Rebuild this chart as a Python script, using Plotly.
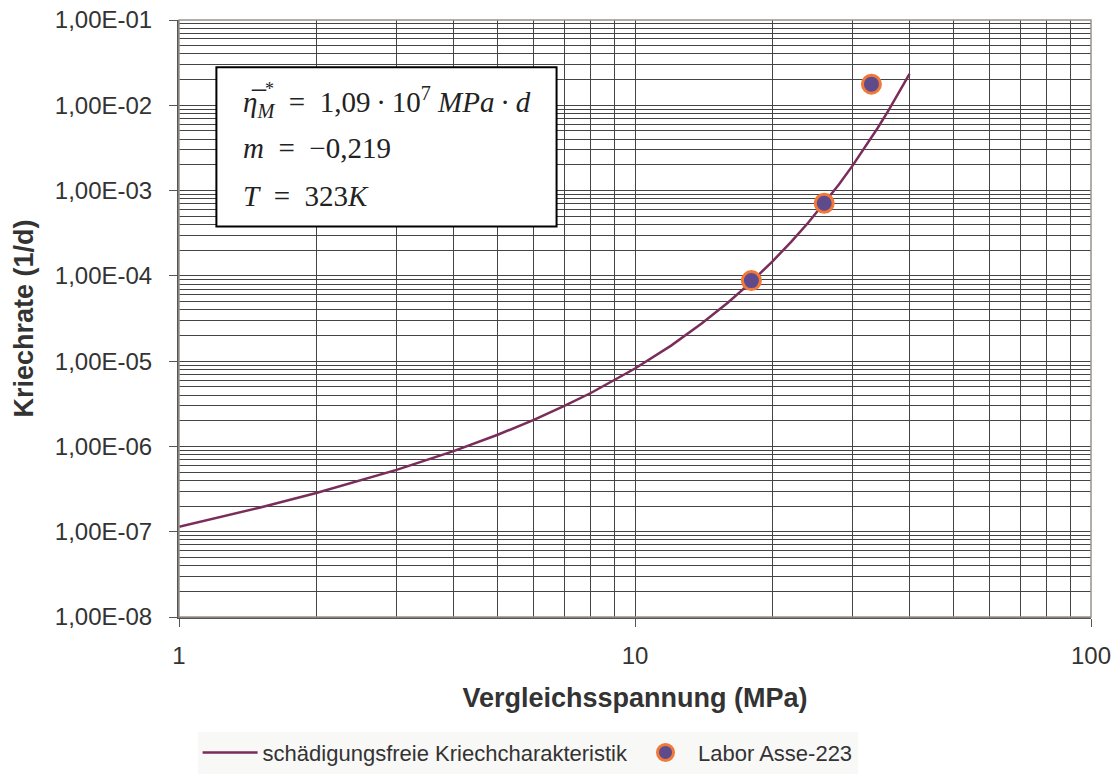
import plotly.graph_objects as go

# Creep characteristic without damage (stress in MPa, creep rate in 1/d)
stress_curve = [1, 1.5, 2, 3, 4, 5, 6, 7, 8, 9, 10, 12, 14, 16, 18, 20,
                22, 24, 26, 28, 30, 32, 34, 36, 38, 40]
rate_curve = [1.14e-7, 1.91e-7, 2.84e-7, 5.31e-7, 8.81e-7, 1.37e-6, 2.05e-6,
              2.98e-6, 4.23e-6, 5.93e-6, 8.20e-6, 1.52e-5, 2.76e-5, 4.88e-5,
              8.51e-5, 1.47e-4, 2.50e-4, 4.22e-4, 7.09e-4, 1.18e-3, 1.96e-3,
              3.25e-3, 5.34e-3, 8.77e-3, 1.43e-2, 2.34e-2]

# Laboratory tests Asse-223
stress_lab = [18, 26, 33]
rate_lab = [8.8e-5, 7.1e-4, 1.77e-2]

x_tickvals = [1, 10, 100]
x_ticktext = ["1", "10", "100"]
y_tickvals = [1e-8, 1e-7, 1e-6, 1e-5, 1e-4, 1e-3, 1e-2, 1e-1]
y_ticktext = ["1,00E-08", "1,00E-07", "1,00E-06", "1,00E-05",
              "1,00E-04", "1,00E-03", "1,00E-02", "1,00E-01"]

name_curve = "schädigungsfreie Kriechcharakteristik"
name_lab = "Labor Asse-223"

SANS = "Liberation Sans, Arial, sans-serif"
SERIF = "Liberation Serif, Times New Roman, serif"
GRID = "#444444"
AXIS = "#555555"
SP = "\u2002"   # en space around the equals signs
TH = "\u2009"   # thin space around the multiplication dots

# minor grid positions: 2..9 within each decade
x_minor = [k * 10 ** e for e in range(0, 2) for k in range(2, 10)]
y_minor = [k * 10.0 ** e for e in range(-8, -1) for k in range(2, 10)]

fig = go.Figure()
fig.add_trace(go.Scatter(
    x=stress_curve, y=rate_curve, mode="lines", name=name_curve,
    line=dict(color="#7a2d5a", width=2.5),
))
fig.add_trace(go.Scatter(
    x=stress_lab, y=rate_lab, mode="markers", name=name_lab,
    marker=dict(size=18, color="#5f4b8b", line=dict(color="#f07838", width=3)),
))

fig.update_xaxes(
    type="log", range=[0, 2],
    tickmode="array", tickvals=x_tickvals, ticktext=x_ticktext,
    ticks="outside", ticklen=8, tickcolor=AXIS, tickwidth=1,
    ticklabelstandoff=8,
    tickfont=dict(family=SANS, size=24, color="#333333"),
    showline=True, linecolor=AXIS, linewidth=2,
    showgrid=True, gridcolor=GRID, gridwidth=1,
    minor=dict(tickmode="array", tickvals=x_minor, showgrid=True,
               gridcolor=GRID, gridwidth=1, ticks=""),
    zeroline=False,
    title=dict(text="<b>Vergleichsspannung (MPa)</b>", standoff=20,
               font=dict(family=SANS, size=27, color="#333333")),
)
fig.update_yaxes(
    type="log", range=[-8, -1],
    tickmode="array", tickvals=y_tickvals, ticktext=y_ticktext,
    ticks="outside", ticklen=8, tickcolor=AXIS, tickwidth=1,
    ticklabelstandoff=12,
    tickfont=dict(family=SANS, size=24, color="#333333"),
    showline=True, linecolor=AXIS, linewidth=2,
    showgrid=True, gridcolor=GRID, gridwidth=1,
    minor=dict(tickmode="array", tickvals=y_minor, showgrid=True,
               gridcolor=GRID, gridwidth=1, ticks=""),
    zeroline=False,
    title=dict(text="<b>Kriechrate (1/d)</b>", standoff=13,
               font=dict(family=SANS, size=27, color="#333333")),
)

# plot frame (top and right edges) and parameter box
fig.add_shape(type="rect", xref="paper", yref="paper", x0=0, x1=1, y0=0, y1=1,
              line=dict(color="#9b918b", width=1.5), layer="above")
fig.add_shape(type="rect", xref="paper", yref="paper",
              x0=0.041, x1=0.414, y0=0.654, y1=0.921,
              line=dict(color="black", width=2), fillcolor="white", layer="above")

txt_font = dict(family=SERIF, size=29, color="#222222")
fig.add_annotation(xref="paper", yref="paper", x=0.068, y=0.862,
                   xanchor="left", yanchor="middle", showarrow=False, font=txt_font,
                   text=(f"<i>η̅</i><sub><i>M</i></sub>{SP}={SP}1,09{TH}·{TH}10<sup>7</sup>"
                         f" <i>MPa</i>{TH}·{TH}<i>d</i>"))
fig.add_annotation(xref="paper", yref="paper", x=0.099, y=0.884,
                   xanchor="center", yanchor="middle", showarrow=False,
                   font=dict(family=SERIF, size=18, color="#222222"), text="*")
fig.add_annotation(xref="paper", yref="paper", x=0.068, y=0.785,
                   xanchor="left", yanchor="middle", showarrow=False, font=txt_font,
                   text=f"<i>m</i>{SP}={SP}−0,219")
fig.add_annotation(xref="paper", yref="paper", x=0.068, y=0.705,
                   xanchor="left", yanchor="middle", showarrow=False, font=txt_font,
                   text=f"<i>T</i>{SP}={SP}323<i>K</i>")

fig.update_layout(
    width=1119, height=782, autosize=False,
    margin=dict(l=179, r=28, t=20, b=165, autoexpand=False),
    paper_bgcolor="white", plot_bgcolor="white",
    showlegend=True,
    legend=dict(orientation="h", x=0.0204, y=-0.192, xanchor="left", yanchor="top",
                bgcolor="#f8f8f6", font=dict(family=SANS, size=22, color="#333333"),
                itemwidth=55),
)

fig.write_html("out.html")
